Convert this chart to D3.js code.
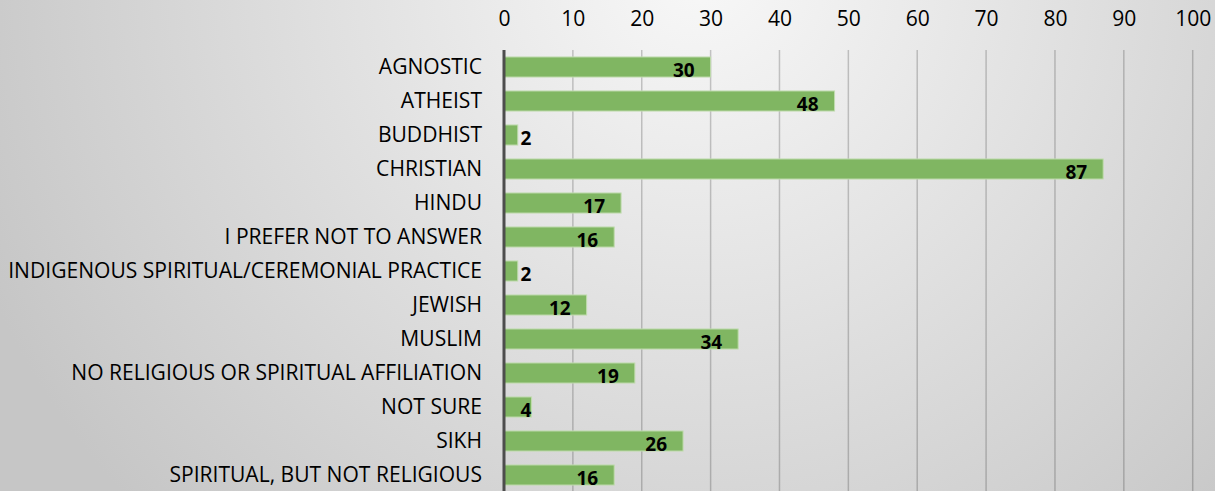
<!DOCTYPE html>
<html><head><meta charset="utf-8">
<script src="https://cdn.jsdelivr.net/npm/d3@7"></script>
<style>html,body{margin:0;padding:0;overflow:hidden;}svg{display:block;}</style>
</head><body>
<svg id="chart" width="1215" height="491"></svg>
<script>
const categories = ["AGNOSTIC","ATHEIST","BUDDHIST","CHRISTIAN","HINDU","I PREFER NOT TO ANSWER","INDIGENOUS SPIRITUAL/CEREMONIAL PRACTICE","JEWISH","MUSLIM","NO RELIGIOUS OR SPIRITUAL AFFILIATION","NOT SURE","SIKH","SPIRITUAL, BUT NOT RELIGIOUS"];
const values = [30,48,2,87,17,16,2,12,34,19,4,26,16];
const tickValues = [0,10,20,30,40,50,60,70,80,90,100];

const W = 1215, H = 491;
const svg = d3.select("#chart");
const defs = svg.append("defs");
const rg = defs.append("radialGradient").attr("id","bg").attr("gradientUnits","userSpaceOnUse")
  .attr("cx",700).attr("cy",-30).attr("r",780);
rg.append("stop").attr("offset","0").attr("stop-color","#f8f8f8");
rg.append("stop").attr("offset","1").attr("stop-color","#c6c6c6");
svg.append("rect").attr("width",W).attr("height",H).attr("fill","url(#bg)");

const x = d3.scaleLinear().domain([0,100]).range([504,1192.7]);
const y = d3.scaleBand().domain(categories).range([50,492]).paddingInner(0.41).paddingOuter(0.205);

const font = "'Open Sans', sans-serif";

// gridlines
svg.append("g").selectAll("line").data(tickValues.slice(1)).join("line")
  .attr("x1",d=>x(d)).attr("x2",d=>x(d)).attr("y1",50).attr("y2",H)
  .attr("stroke","rgba(0,0,0,0.2)").attr("stroke-width",1.5);

// category axis
const yAxis = d3.axisLeft(y).tickSize(0).tickPadding(22);
const gy = svg.append("g").attr("transform",`translate(${x(0)},0)`).call(yAxis);
gy.select(".domain").remove();
gy.selectAll("text").attr("font-family",font).attr("font-size",17).attr("fill","#000");
let maxW = 0;
gy.selectAll("text").each(function(){ maxW = Math.max(maxW, this.getComputedTextLength()); });
const fs = 17 * 474 / maxW;
gy.selectAll("text").attr("font-size",fs).attr("dy","0.35em");

// top axis labels
const xAxis = d3.axisTop(x).tickValues(tickValues).tickSize(0).tickPadding(0);
const gx = svg.append("g").attr("transform","translate(0,26)").call(xAxis);
gx.select(".domain").remove();
gx.selectAll("text").attr("font-family",font).attr("font-size",fs).attr("fill","#000");

// bars
svg.append("g").selectAll("rect").data(values).join("rect")
  .attr("x",x(0)).attr("y",(d,i)=>y(categories[i]))
  .attr("width",d=>x(d)-x(0)).attr("height",y.bandwidth())
  .attr("fill","#80b662").attr("stroke","#c0dcae").attr("stroke-width",1);

// axis line
svg.append("line").attr("x1",x(0)).attr("x2",x(0)).attr("y1",50).attr("y2",H)
  .attr("stroke","#4d4d4d").attr("stroke-width",3);

// value labels
const lbl = svg.append("g").selectAll("text").data(values).join("text")
  .attr("font-family",font).attr("font-weight","bold").attr("font-size",19)
  .attr("fill","#000").attr("text-anchor","end")
  .attr("y",(d,i)=>y(categories[i])+y.bandwidth()/2+9.5)
  .text(d=>d);
lbl.attr("x",function(d){
  const w = this.getComputedTextLength();
  return Math.max(x(d)-16, x(0)+16.5+w);
});
</script>
</body></html>
